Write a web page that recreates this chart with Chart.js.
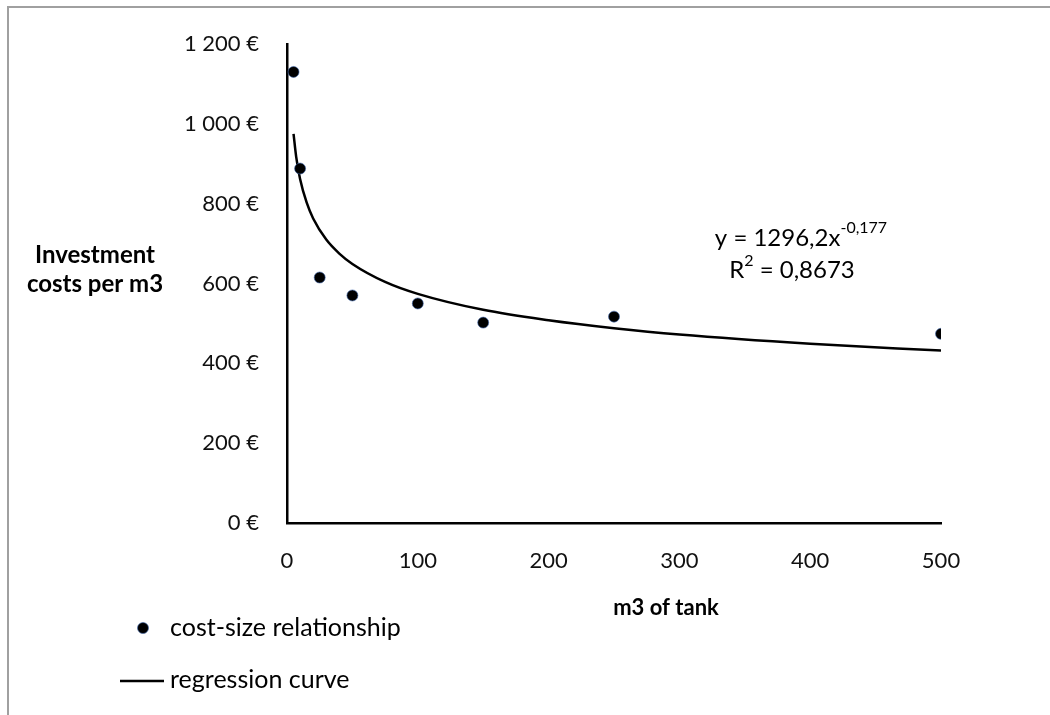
<!DOCTYPE html>
<html>
<head>
<meta charset="utf-8">
<script src="https://cdn.jsdelivr.net/npm/chart.js@4.4.1/dist/chart.umd.min.js"></script>
<style>
    html, body { margin: 0; padding: 0; background: #fff; }
    #wrap { width: 1050px; height: 715px; position: relative; }
</style>
</head>
<body>
<div id="wrap"><canvas id="costChart" width="1050" height="715"></canvas></div>
<script>
// tank size (m3) and investment cost per m3 (EUR)
var tankSizes = [5, 10, 25, 50, 100, 150, 250, 500];
var costPerM3 = [1130, 888, 615, 570, 550, 502, 517, 474];

// regression curve as drawn (y = 1296,2x^-0,177), values read at these sizes
var curveSizes = [5, 7, 10, 15, 20, 30, 40, 50, 75, 100, 150, 200, 250, 300, 400, 500];
var curveCosts = [975, 918, 862, 803, 763, 710, 675, 649, 604, 574, 534, 508, 488, 472, 449, 432];

var xTicks = [0, 100, 200, 300, 400, 500];
var yTicks = [0, 200, 400, 600, 800, 1000, 1200];

var FONT = "Lato, 'Open Sans', sans-serif";

function toPoints(xs, ys) {
    var pts = [];
    for (var i = 0; i < xs.length; i++) pts.push({ x: xs[i], y: ys[i] });
    return pts;
}

function euro(v) {
    var s = String(v);
    if (v >= 1000) s = s.slice(0, s.length - 3) + ' ' + s.slice(-3);
    return s + ' €';
}

// frame, axis titles, equation and legend
var decorations = {
    id: 'decorations',
    afterDraw: function (chart) {
        var ctx = chart.ctx;
        ctx.save();
        ctx.strokeStyle = '#a0a0a0';
        ctx.lineWidth = 2;
        ctx.beginPath();
        ctx.moveTo(8, 715);
        ctx.lineTo(8, 7);
        ctx.lineTo(1050, 7);
        ctx.stroke();

        ctx.fillStyle = '#000';
        ctx.textAlign = 'center';
        ctx.textBaseline = 'middle';
        ctx.font = 'bold 24px ' + FONT;
        ctx.fillText('Investment', 95, 255);
        ctx.fillText('costs per m3', 95, 284);
        ctx.font = 'bold 22px ' + FONT;
        ctx.fillText('m3 of tank', 666, 608);

        // equation
        ctx.font = '24px ' + FONT;
        ctx.textAlign = 'left';
        var main = 'y = 1296,2x';
        var sup = '-0,177';
        var w1 = ctx.measureText(main).width;
        ctx.font = '16px ' + FONT;
        var w2 = ctx.measureText(sup).width;
        var x0 = 801 - (w1 + w2) / 2;
        ctx.font = '24px ' + FONT;
        ctx.fillText(main, x0, 238);
        ctx.font = '16px ' + FONT;
        ctx.fillText(sup, x0 + w1, 228);

        ctx.font = '24px ' + FONT;
        var r1 = 'R', r2 = '2', r3 = ' = 0,8673';
        var a = ctx.measureText(r1).width, c = ctx.measureText(r3).width;
        ctx.font = '16px ' + FONT;
        var b = ctx.measureText(r2).width;
        var rx = 792 - (a + b + c) / 2;
        ctx.font = '24px ' + FONT;
        ctx.fillText(r1, rx, 270);
        ctx.font = '16px ' + FONT;
        ctx.fillText(r2, rx + a, 261);
        ctx.font = '24px ' + FONT;
        ctx.fillText(r3, rx + a + b, 270);

        // legend
        ctx.beginPath();
        ctx.arc(143, 628, 5.5, 0, Math.PI * 2);
        ctx.fillStyle = '#000';
        ctx.fill();
        ctx.strokeStyle = 'rgba(60,100,170,0.6)';
        ctx.lineWidth = 1;
        ctx.stroke();
        ctx.fillStyle = '#000';
        ctx.font = '25px ' + FONT;
        ctx.fillText('cost-size relationship', 170, 628);
        ctx.strokeStyle = '#000';
        ctx.lineWidth = 2.5;
        ctx.beginPath();
        ctx.moveTo(120, 681);
        ctx.lineTo(164, 681);
        ctx.stroke();
        ctx.fillText('regression curve', 170, 680);
        ctx.restore();
    }
};

new Chart(document.getElementById('costChart').getContext('2d'), {
    type: 'scatter',
    data: {
        datasets: [{
            label: 'cost-size relationship',
            data: toPoints(tankSizes, costPerM3),
            pointRadius: 5.5,
            pointBackgroundColor: '#000',
            pointBorderColor: 'rgba(60,100,170,0.6)',
            pointBorderWidth: 1,
            showLine: false
        }, {
            label: 'regression curve',
            data: toPoints(curveSizes, curveCosts),
            showLine: true,
            borderColor: '#000',
            borderWidth: 2.5,
            pointRadius: 0,
            cubicInterpolationMode: 'monotone',
            fill: false
        }]
    },
    options: {
        responsive: false,
        animation: false,
        layout: { padding: { left: 0, top: 44, right: 109, bottom: 0 } },
        plugins: { legend: { display: false }, tooltip: { enabled: false } },
        scales: {
            x: {
                type: 'linear',
                min: 0,
                max: 500,
                afterFit: function (s) { s.height = 192; },
                afterBuildTicks: function (s) { s.ticks = xTicks.map(function (v) { return { value: v }; }); },
                grid: { display: false, drawTicks: false },
                border: { display: true, color: '#000', width: 2.5 },
                ticks: { padding: 25, color: '#111', font: { family: FONT, size: 22 } }
            },
            y: {
                type: 'linear',
                min: 0,
                max: 1200,
                afterFit: function (s) { s.width = 287; },
                afterBuildTicks: function (s) { s.ticks = yTicks.map(function (v) { return { value: v }; }); },
                grid: { display: false, drawTicks: false },
                border: { display: true, color: '#000', width: 2.5 },
                ticks: {
                    padding: 28,
                    color: '#111',
                    font: { family: FONT, size: 22 },
                    callback: function (v) { return euro(v); }
                }
            }
        }
    },
    plugins: [decorations]
});
</script>
</body>
</html>
